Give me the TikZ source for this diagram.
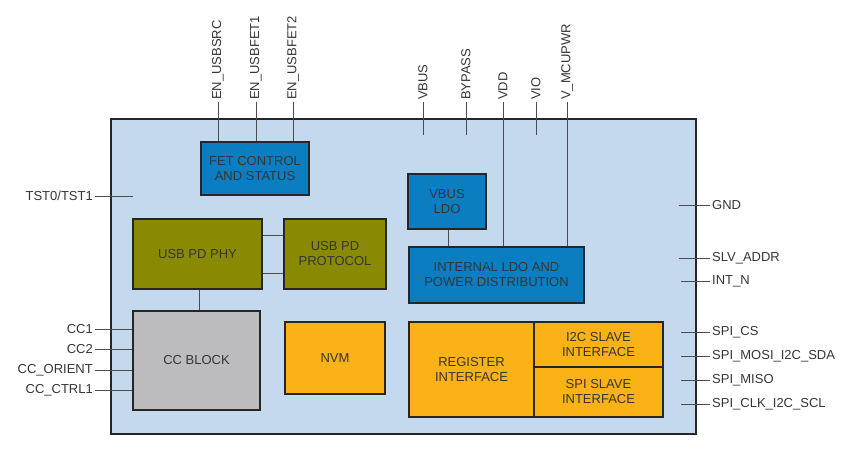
\documentclass[tikz,border=0pt]{standalone}
\usepackage{fontspec}
\setmainfont{Liberation Sans}
\usetikzlibrary{positioning}

\definecolor{chipfill}{HTML}{C5D9EE}
\definecolor{fetblue}{HTML}{0B7DC1}
\definecolor{phyolive}{HTML}{8A8A02}
\definecolor{ccgray}{HTML}{BCBCBE}
\definecolor{regorange}{HTML}{FBB216}
\definecolor{txtgray}{HTML}{353535}

\begin{document}
\begin{tikzpicture}[x=1pt, y=-1pt,
    blk/.style={draw=black!85, line width=1.3pt, align=center, inner sep=0pt,
                text=txtgray, font=\fontsize{13}{15}\selectfont},
    pinlbl/.style={text=txtgray, font=\fontsize{13}{15}\selectfont, inner sep=2pt},
    wire/.style={draw=black!70, line width=0.8pt}]
    \useasboundingbox (0,0) rectangle (849,451);

    % The chip
    \node[draw=black!85, line width=1.4pt, fill=chipfill, minimum width=585, minimum height=315, inner sep=0pt] (chip) at (403.5,276.5) {};

    % The blocks
    \node[blk, fill=fetblue, minimum width=108, minimum height=53] (fet) at (255,168.5) {FET CONTROL\\AND STATUS};
    \node[blk, fill=fetblue, minimum width=78, minimum height=55] (vbusldo) at (447,201.5) {VBUS\\LDO};
    \node[blk, fill=fetblue, minimum width=175, minimum height=56] (intldo) at (496.5,275) {INTERNAL LDO AND\\POWER DISTRIBUTION};
    \node[blk, fill=phyolive, minimum width=129, minimum height=70] (phy) at (197.5,254) {USB PD PHY};
    \node[blk, fill=phyolive, minimum width=102, minimum height=70] (proto) at (335,254) {USB PD\\PROTOCOL};
    \node[blk, fill=ccgray, minimum width=127, minimum height=99] (cc) at (196.5,360.5) {CC BLOCK};
    \node[blk, fill=regorange, minimum width=100, minimum height=72] (nvm) at (335,358) {NVM};
    \node[blk, fill=regorange, minimum width=125, minimum height=95] (reg) at (471.5,369.5) {REGISTER\\INTERFACE};
    \node[blk, fill=regorange, minimum width=129, minimum height=45] (i2c) at (598.5,344.5) {I2C SLAVE\\INTERFACE};
    \node[blk, fill=regorange, minimum width=129, minimum height=50] (spi) at (598.5,392) {SPI SLAVE\\INTERFACE};

    % Inner links
    \draw[wire] ([yshift=19pt]phy.east) -- ([yshift=19pt]proto.west);
    \draw[wire] ([yshift=-19pt]phy.east) -- ([yshift=-19pt]proto.west);
    \draw[wire] ([xshift=1.5pt]phy.south) -- ([xshift=1.5pt]phy.south |- cc.north);
    \draw[wire] ([xshift=1pt]vbusldo.south) -- ([xshift=1pt]vbusldo.south |- intldo.north);

    % Top pins
    \node[pinlbl, rotate=90, anchor=west] (lsrc) at (218,102) {EN\_USBSRC};
    \node[pinlbl, rotate=90, anchor=west] (lfet1) at (256,102) {EN\_USBFET1};
    \node[pinlbl, rotate=90, anchor=west] (lfet2) at (293,102) {EN\_USBFET2};
    \node[pinlbl, rotate=90, anchor=west] (lvbus) at (423,102) {VBUS};
    \node[pinlbl, rotate=90, anchor=west] (lbyp) at (466,102) {BYPASS};
    \node[pinlbl, rotate=90, anchor=west] (lvdd) at (503,102) {VDD};
    \node[pinlbl, rotate=90, anchor=west] (lvio) at (536,102) {VIO};
    \node[pinlbl, rotate=90, anchor=west] (lmcu) at (567,102) {V\_MCUPWR};
    \coordinate (evbus) at (423,135);
    \coordinate (ebyp) at (466,135);
    \coordinate (evio) at (536,135);

    \draw[wire] (lsrc.west) -- (lsrc.west |- fet.north);
    \draw[wire] (lfet1.west) -- (lfet1.west |- fet.north);
    \draw[wire] (lfet2.west) -- (lfet2.west |- fet.north);
    \draw[wire] (lvbus.west) -- (evbus);
    \draw[wire] (lbyp.west) -- (ebyp);
    \draw[wire] (lvdd.west) -- (lvdd.west |- intldo.north);
    \draw[wire] (lvio.west) -- (evio);
    \draw[wire] (lmcu.west) -- (lmcu.west |- intldo.north);

    % Left pins
    \node[pinlbl, anchor=east] (ltst) at (95,196) {TST0/TST1};
    \node[pinlbl, anchor=east] (lcc1) at (95,329) {CC1};
    \node[pinlbl, anchor=east] (lcc2) at (95,349) {CC2};
    \node[pinlbl, anchor=east] (lorient) at (95,370) {CC\_ORIENT};
    \node[pinlbl, anchor=east] (lctrl) at (95,390) {CC\_CTRL1};
    \coordinate (etst) at (133,196);

    \draw[wire] (ltst.east) -- (etst);
    \draw[wire] (lcc1.east) -- (lcc1.east -| cc.west);
    \draw[wire] (lcc2.east) -- (lcc2.east -| cc.west);
    \draw[wire] (lorient.east) -- (lorient.east -| cc.west);
    \draw[wire] (lctrl.east) -- (lctrl.east -| cc.west);

    % Right pins
    \node[pinlbl, anchor=west] (lgnd) at (710,205) {GND};
    \node[pinlbl, anchor=west] (lslv) at (710,258) {SLV\_ADDR};
    \node[pinlbl, anchor=west] (lint) at (710,281) {INT\_N};
    \node[pinlbl, anchor=west] (lcs) at (710,332) {SPI\_CS};
    \node[pinlbl, anchor=west] (lmosi) at (710,356) {SPI\_MOSI\_I2C\_SDA};
    \node[pinlbl, anchor=west] (lmiso) at (710,380) {SPI\_MISO};
    \node[pinlbl, anchor=west] (lclk) at (710,404) {SPI\_CLK\_I2C\_SCL};

    \draw[wire] (lgnd.west) -- +(-31,0);
    \draw[wire] (lslv.west) -- +(-31,0);
    \draw[wire] (lint.west) -- +(-29,0);
    \draw[wire] (lcs.west) -- +(-29,0);
    \draw[wire] (lmosi.west) -- +(-29,0);
    \draw[wire] (lmiso.west) -- +(-29,0);
    \draw[wire] (lclk.west) -- +(-29,0);
\end{tikzpicture}
\end{document}
